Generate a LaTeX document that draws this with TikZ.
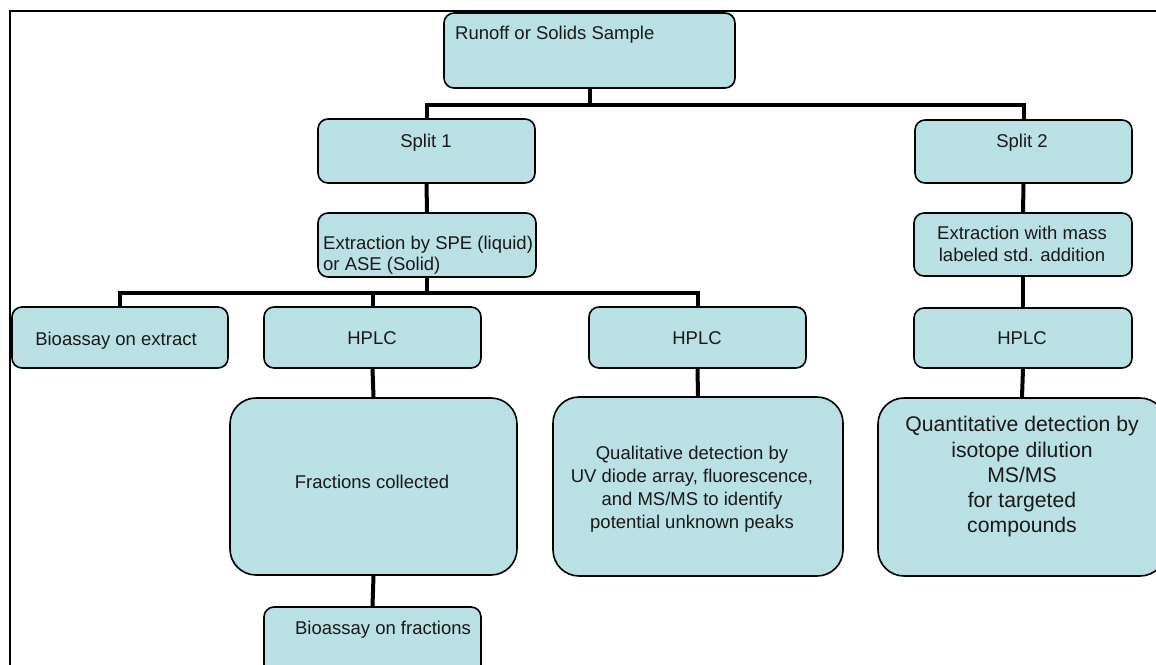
\documentclass[tikz,border=0pt]{standalone}
\usepackage{fontspec}
\setmainfont{Liberation Sans}
\definecolor{boxfill}{RGB}{185,224,227}
\tikzset{
  box/.style={draw=black, line width=1.6pt, fill=boxfill, rounded corners=10pt, inner sep=0pt},
  bigbox/.style={box, rounded corners=26pt},
  conn/.style={draw=black, line width=4pt},
  txt/.style={font=\fontsize{18.5}{22}\selectfont, inner sep=0pt, align=center, text=black!90},
  bigtxt/.style={font=\fontsize{21.2}{25.3}\selectfont, inner sep=0pt, align=center, text=black!90},
}
\begin{document}
\begin{tikzpicture}[x=1pt,y=-1pt]
\useasboundingbox (0,0) rectangle (1156,664);
\clip (0,0) rectangle (1156,664);
% frame
\draw[line width=1.6pt] (10,700) -- (10,11) -- (1200,11);
% boxes
\node[box, minimum width=291, minimum height=75] (top) at (589.5,50.5) {};
\node[box, minimum width=217, minimum height=64] (s1) at (426.5,151) {};
\node[box, minimum width=217, minimum height=63] (s2) at (1023.5,151.5) {};
\node[box, minimum width=218, minimum height=64] (ex1) at (427,245) {};
\node[box, minimum width=218, minimum height=63] (ex2) at (1023,244.5) {};
\node[box, minimum width=216, minimum height=61] (bio1) at (120,337.5) {};
\node[box, minimum width=217, minimum height=61] (h1) at (372.5,337.5) {};
\node[box, minimum width=217, minimum height=61] (h2) at (697.5,337.5) {};
\node[box, minimum width=218, minimum height=60] (h3) at (1023,338) {};
\node[bigbox, minimum width=287, minimum height=177] (frac) at (373.5,486.5) {};
\node[bigbox, minimum width=290, minimum height=179] (qual) at (698,486.5) {};
\node[bigbox, minimum width=288, minimum height=178] (quant) at (1022,487) {};
\node[box, minimum width=217, minimum height=73] (bio2) at (372.5,643.5) {};
% connectors
\draw[conn] (top.south) -- ++(0,16) coordinate (j1);
\draw[conn] (s1.north) |- (j1) -| (s2.north);
\draw[conn] (s1.south) -- (ex1.north);
\draw[conn] (s2.south) -- (ex2.north);
\draw[conn] (ex2.south) -- (h3.north);
\draw[conn] (h3.south) -- (quant.north);
\draw[conn] (ex1.south) -- ++(0,15) coordinate (j2);
\draw[conn] (bio1.north) |- (j2) -| (h2.north);
\draw[conn] (h1.north) -- (h1.north |- j2);
\draw[conn] (h1.south) -- (frac.north);
\draw[conn] (h2.south) -- (qual.north);
\draw[conn] (frac.south) -- (bio2.north);
% texts
\node[txt, anchor=base west] (t0) at (455,39) {Runoff or Solids Sample};
\node[txt, anchor=base] (t1) at (426,147) {Split 1};
\node[txt, anchor=base] (t2) at (1022,147) {Split 2};
\node[txt, anchor=base west, align=left, font=\fontsize{18.5}{21}\selectfont] (t3) at (323,270.7) {Extraction by SPE (liquid)\\or ASE (Solid)};
\node[txt, anchor=base] (t4) at (1022,261.7) {Extraction with mass\\labeled std. addition};
\node[txt, anchor=base] (t5) at (116,345) {Bioassay on extract};
\node[txt, anchor=base] (t6) at (372,344) {HPLC};
\node[txt, anchor=base] (t7) at (697,344) {HPLC};
\node[txt, anchor=base] (t8) at (1022,344) {HPLC};
\node[txt, anchor=base] (t9) at (372,488.5) {Fractions collected};
\node[txt, anchor=base, font=\fontsize{18.5}{23}\selectfont] (t10) at (692,528.3) {Qualitative detection by\\UV diode array, fluorescence,\\and MS/MS to identify\\potential unknown peaks};
\node[bigtxt, anchor=base] (t11) at (1022,532.9) {Quantitative detection by\\isotope dilution\\MS/MS\\for targeted\\compounds};
\node[txt, anchor=base] (t12) at (383,634) {Bioassay on fractions};
\end{tikzpicture}
\end{document}
